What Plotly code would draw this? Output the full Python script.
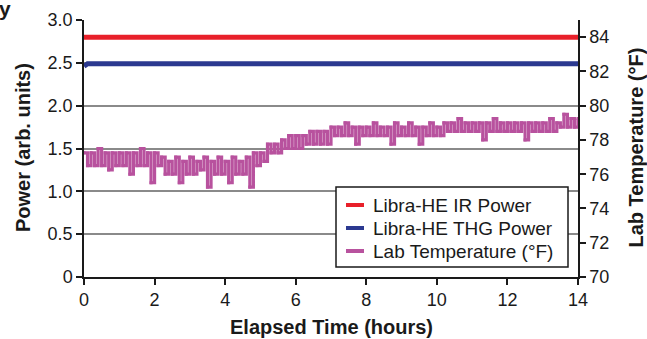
import plotly.graph_objects as go

# ---- data ----
hours_power = [0, 0.1, 1, 2, 3, 4, 5, 6, 7, 8, 9, 10, 11, 12, 13, 14]
ir_power = [2.80, 2.80, 2.80, 2.80, 2.79, 2.79, 2.79, 2.79, 2.80, 2.80, 2.80, 2.80, 2.80, 2.80, 2.80, 2.80]
thg_power = [2.46, 2.49, 2.49, 2.49, 2.49, 2.49, 2.49, 2.49, 2.49, 2.49, 2.49, 2.49, 2.49, 2.49, 2.49, 2.49]

temp_hours = [i / 10 for i in range(141)]
lab_temp = [
    77.25, 76.5, 77.25, 76.5, 77.5, 76.5, 77.25, 76.25, 77.25, 76.5,
    77.25, 76.5, 77.25, 76.0, 77.25, 76.5, 77.5, 76.5, 77.25, 75.5,
    77.25, 76.5, 77.0, 76.0, 76.75, 76.0, 77.0, 75.5, 76.75, 76.0,
    77.0, 76.0, 76.75, 76.25, 77.0, 75.25, 76.75, 76.0, 77.0, 76.0,
    76.75, 75.5, 77.0, 76.0, 76.75, 76.0, 77.0, 75.25, 77.25, 76.5,
    77.25, 76.75, 77.75, 77.25, 77.75, 77.25, 78.0, 77.5, 78.25, 77.5,
    78.25, 77.5, 78.25, 77.75, 78.5, 77.75, 78.5, 77.75, 78.5, 77.75,
    78.75, 78.25, 78.75, 78.25, 79.0, 78.25, 78.75, 77.75, 78.75, 78.25,
    78.75, 78.25, 79.0, 78.25, 78.75, 78.25, 78.75, 77.75, 79.0, 78.25,
    78.75, 78.25, 79.0, 78.25, 78.75, 77.75, 78.75, 78.25, 79.0, 78.25,
    78.75, 78.25, 79.0, 78.5, 79.0, 78.5, 79.25, 78.5, 79.0, 78.5,
    79.0, 78.5, 79.0, 78.0, 79.0, 78.5, 79.25, 78.5, 79.0, 78.5,
    79.0, 78.5, 79.0, 78.5, 79.0, 78.0, 79.0, 78.5, 79.0, 78.5,
    79.0, 78.5, 79.25, 78.5, 79.0, 78.75, 79.5, 78.75, 79.25, 78.75,
    79.25,
]

x_ticks = [0, 2, 4, 6, 8, 10, 12, 14]
left_ticks = [0, 0.5, 1.0, 1.5, 2.0, 2.5, 3.0]
left_tick_labels = ["0", "0.5", "1.0", "1.5", "2.0", "2.5", "3.0"]
right_ticks = [70, 72, 74, 76, 78, 80, 82, 84]
legend_names = ["Libra-HE IR Power", "Libra-HE THG Power", "Lab Temperature (°F)"]

RED = "#e8202a"
BLUE = "#2b3990"
MAG = "#b8529e"
INK = "#1a1a1a"
FONT = "Liberation Sans, Arial, sans-serif"

fig = go.Figure()

fig.add_trace(go.Scatter(x=temp_hours, y=lab_temp, yaxis="y2", mode="lines+markers",
                         line=dict(color=MAG, width=3.2, shape="hv"),
                         marker=dict(symbol="square", size=3, color=MAG),
                         showlegend=False))
fig.add_trace(go.Scatter(x=hours_power, y=ir_power, mode="lines",
                         line=dict(color=RED, width=5), showlegend=False))
fig.add_trace(go.Scatter(x=hours_power, y=thg_power, mode="lines",
                         line=dict(color=BLUE, width=5), showlegend=False))

axis_common = dict(ticks="outside", ticklen=6, tickwidth=1.5, tickcolor=INK,
                   showline=True, linecolor=INK, linewidth=1.5, zeroline=False,
                   automargin=False, tickfont=dict(size=18, color=INK))

fig.update_layout(
    width=647, height=339,
    margin=dict(l=84, r=69, t=20, b=62),
    paper_bgcolor="white", plot_bgcolor="white",
    font=dict(family=FONT, size=18, color=INK),
    showlegend=False,
    xaxis=dict(range=[0, 14], tickvals=x_ticks, showgrid=False, **axis_common),
    yaxis=dict(range=[0, 3.0], tickvals=left_ticks, ticktext=left_tick_labels,
               showgrid=True, gridcolor="#8a8a8a", gridwidth=1.5, **axis_common),
    yaxis2=dict(range=[70, 85], tickvals=right_ticks, overlaying="y", side="right",
                showgrid=False, **axis_common),
)

def px_x(p):
    return (p - 84) / 494

def px_y(p):
    return (277 - p) / 257

# legend box (drawn manually to match the compact symbol layout)
fig.add_shape(type="rect", xref="paper", yref="paper",
              x0=px_x(336), x1=px_x(568), y0=px_y(267), y1=px_y(187),
              fillcolor="white", line=dict(color=INK, width=1.5), layer="above")
for name, col, row_y in zip(legend_names, [RED, BLUE, MAG], [205, 228, 251]):
    fig.add_shape(type="line", xref="paper", yref="paper",
                  x0=px_x(346), x1=px_x(364), y0=px_y(row_y), y1=px_y(row_y),
                  line=dict(color=col, width=4), layer="above")
    fig.add_annotation(text=name, xref="paper", yref="paper",
                       x=px_x(371), y=px_y(row_y), xanchor="left", yanchor="middle",
                       showarrow=False, font=dict(size=19, color=INK))

# axis titles
fig.add_annotation(text="<b>Power (arb. units)</b>", xref="paper", yref="paper",
                   x=px_x(22.5), y=px_y(147.5), textangle=-90, showarrow=False,
                   xanchor="center", yanchor="middle", font=dict(size=20, color=INK))
fig.add_annotation(text="<b>Lab Temperature (°F)</b>", xref="paper", yref="paper",
                   x=px_x(635), y=px_y(147.5), textangle=-90, showarrow=False,
                   xanchor="center", yanchor="middle", font=dict(size=20, color=INK))
fig.add_annotation(text="<b>Elapsed Time (hours)</b>", xref="paper", yref="paper",
                   x=px_x(331), y=px_y(327), showarrow=False,
                   xanchor="center", yanchor="middle", font=dict(size=20, color=INK))
# clipped title fragment at top-left
fig.add_annotation(text="<b>y</b>", xref="paper", yref="paper",
                   x=px_x(-3), y=px_y(-5), showarrow=False,
                   xanchor="left", yanchor="top", font=dict(size=21, color=INK))

fig.write_html("out.html", config={"displayModeBar": False},
               post_script="document.body.style.margin='0';")
